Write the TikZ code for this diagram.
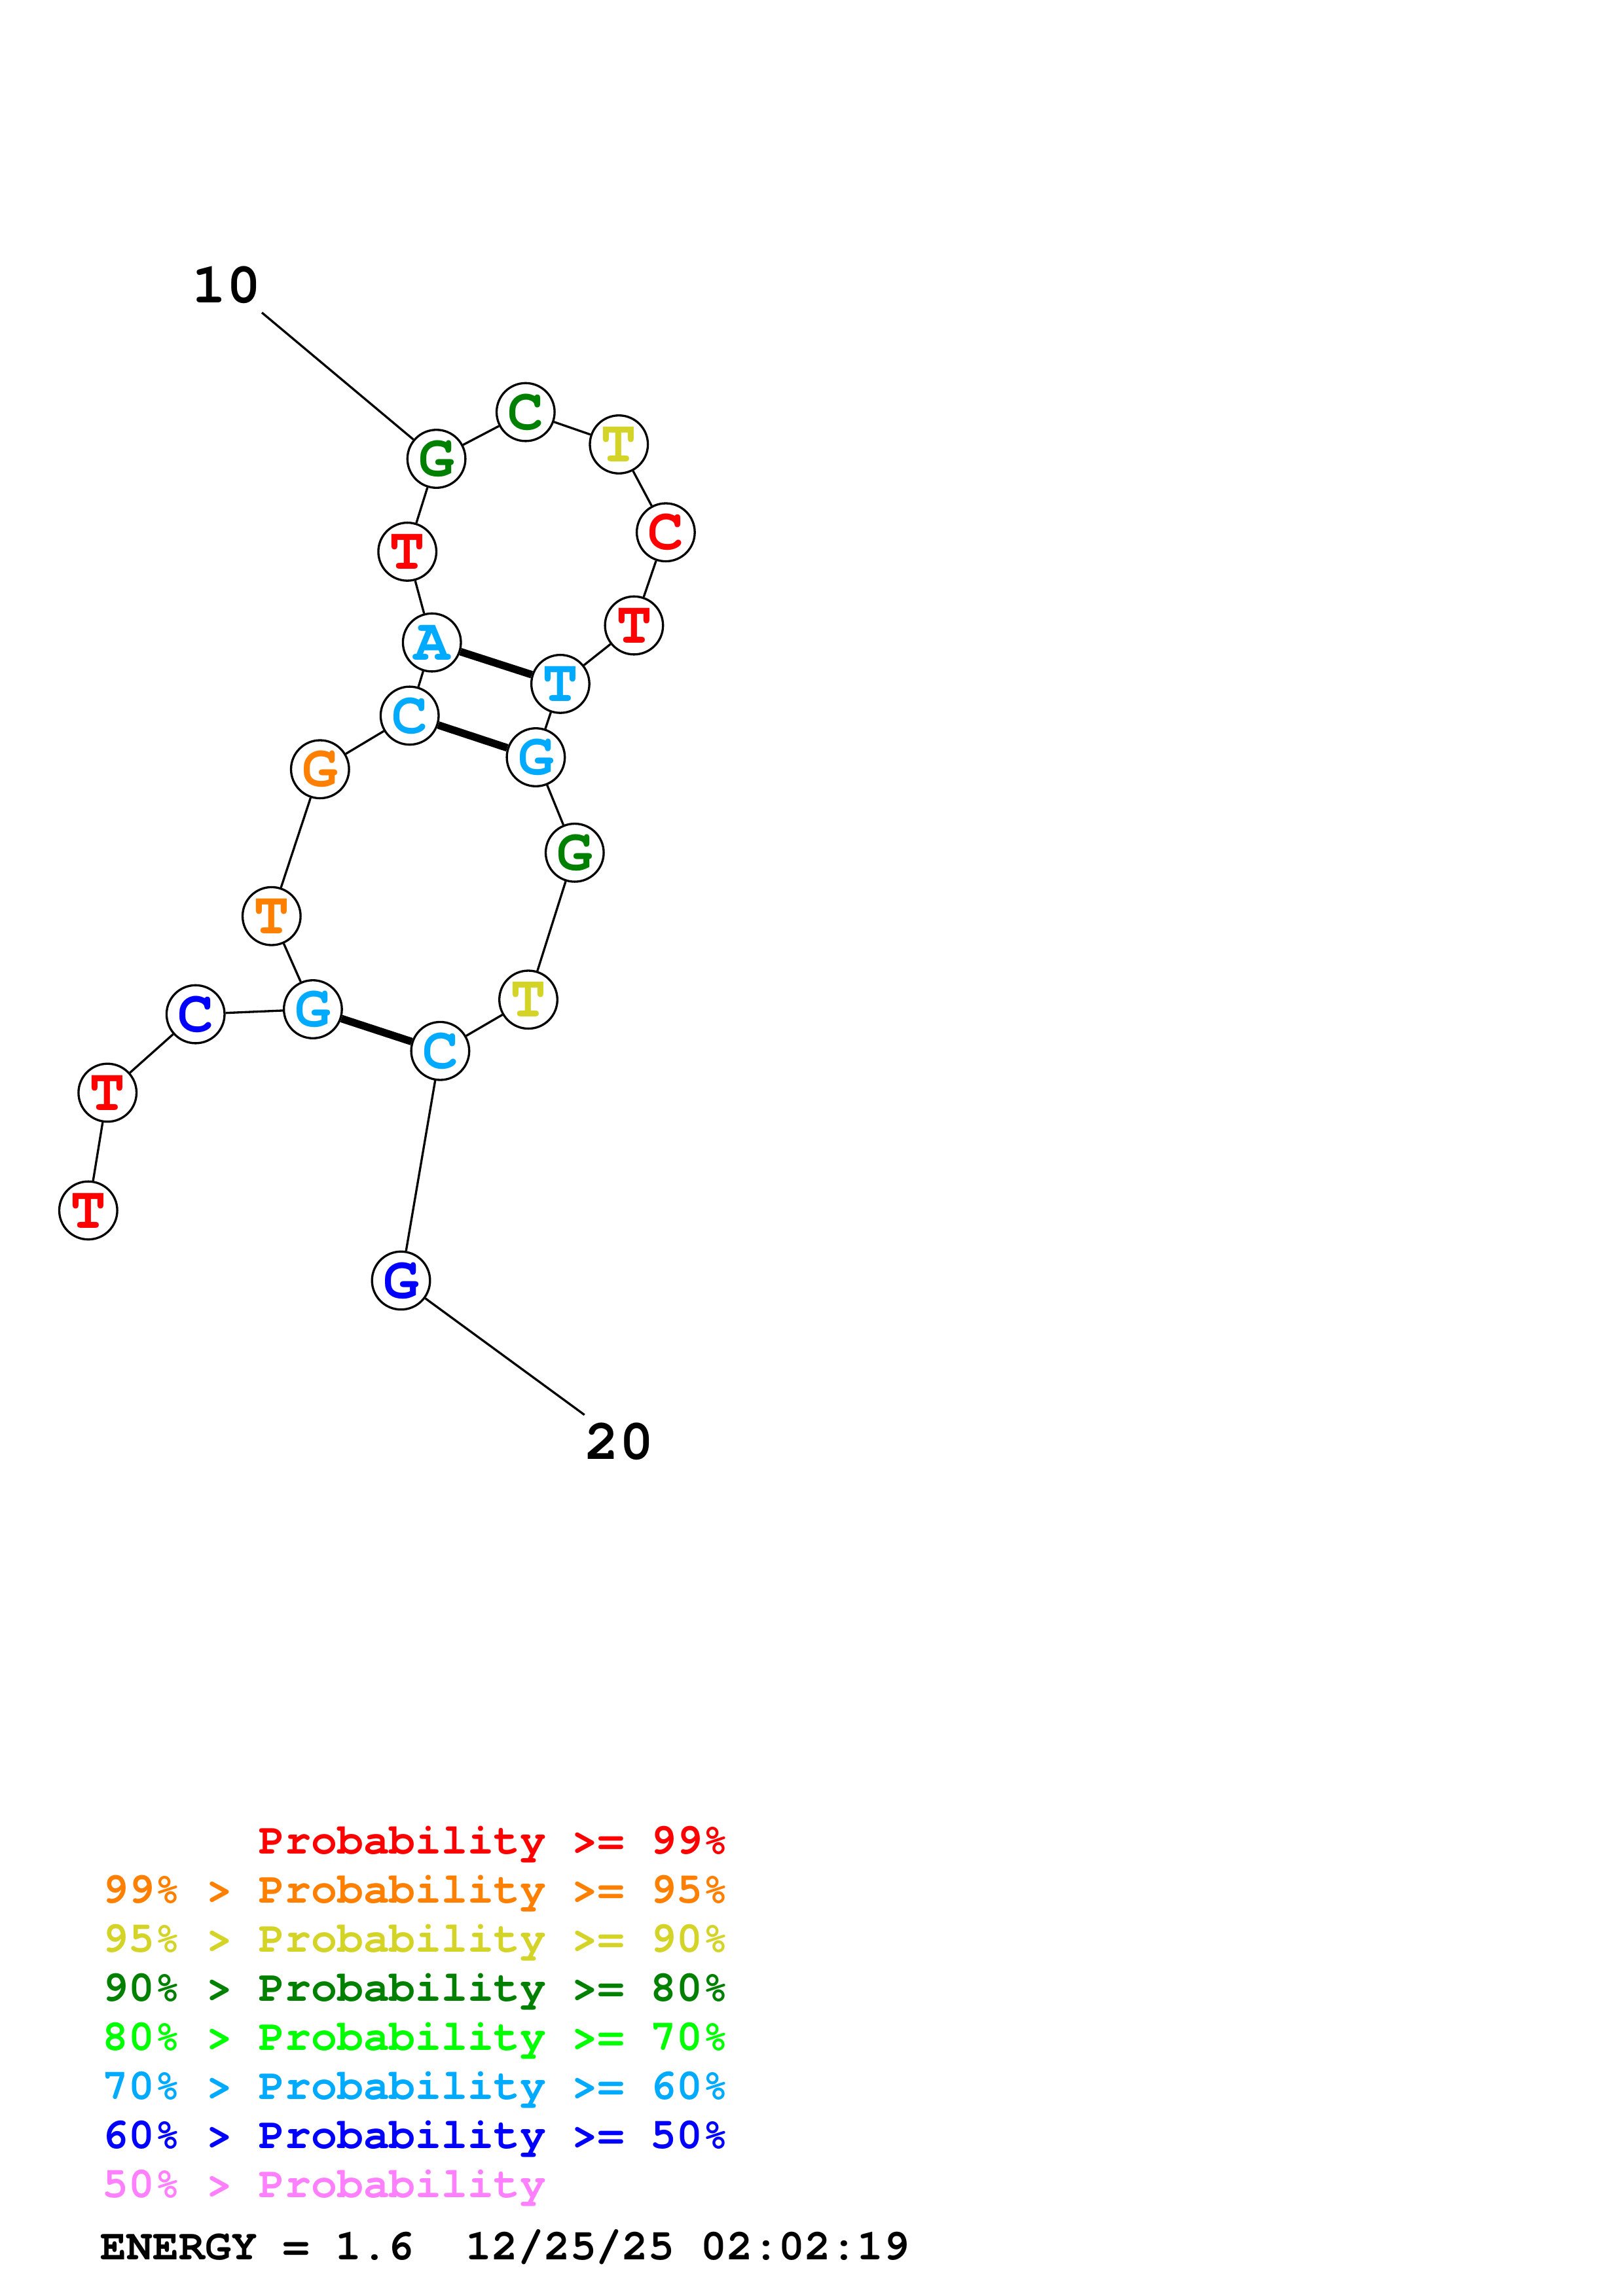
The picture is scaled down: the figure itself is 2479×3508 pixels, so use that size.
\documentclass[tikz,border=0pt]{standalone}
\usepackage{fontspec}
\setmonofont{texgyrecursor}[Extension=.otf,UprightFont=*-regular,BoldFont=*-bold]
\usepackage{tikz}

\definecolor{pNine}{RGB}{255,0,0}
\definecolor{pFive}{RGB}{255,128,0}
\definecolor{pNty}{RGB}{212,212,40}
\definecolor{pEty}{RGB}{0,128,0}
\definecolor{pSvty}{RGB}{0,255,0}
\definecolor{pSxty}{RGB}{0,170,255}
\definecolor{pFfty}{RGB}{0,0,255}
\definecolor{pLow}{RGB}{255,128,255}

\begin{document}
\begin{tikzpicture}[x=0.08467mm,y=-0.08467mm,
		base/.style={circle,draw=black,fill=white,line width=0.8pt,inner sep=0pt,minimum size=7.5mm,font=\ttfamily\bfseries\fontsize{22}{22}\selectfont},
		bb/.style={line width=0.8pt},
		pair/.style={line width=2.8pt},
		endlbl/.style={font=\ttfamily\bfseries\fontsize{21}{21}\selectfont},
		lgd/.style={anchor=base west,inner sep=0pt,font=\ttfamily\bfseries\fontsize{16}{16}\selectfont}]
		\useasboundingbox (0,0) rectangle (2479,3508);
		%Bases
		\node[base,text=pNine] (b1) at (134.8,1849.4) {T};
		\node[base,text=pNine] (b2) at (164.2,1669.5) {T};
		\node[base,text=pFfty] (b3) at (298.7,1549.6) {C};
		\node[base,text=pSxty] (b4) at (477.9,1542) {G};
		\node[base,text=pFive] (b5) at (414.8,1399.7) {T};
		\node[base,text=pFive] (b6) at (488.8,1175.3) {G};
		\node[base,text=pSxty] (b7) at (625.7,1093.4) {C};
		\node[base,text=pSxty] (b8) at (659.7,981.6) {A};
		\node[base,text=pNine] (b9) at (622.2,842.9) {T};
		\node[base,text=pEty] (b10) at (666.6,701) {G};
		\node[base,text=pEty] (b11) at (802.8,629.6) {C};
		\node[base,text=pNty] (b12) at (945.3,679) {T};
		\node[base,text=pNine] (b13) at (1016.9,813.3) {C};
		\node[base,text=pNine] (b14) at (968.4,955.6) {T};
		\node[base,text=pSxty] (b15) at (855.9,1044.9) {T};
		\node[base,text=pSxty] (b16) at (818.4,1157) {G};
		\node[base,text=pEty] (b17) at (877.8,1302.8) {G};
		\node[base,text=pNty] (b18) at (807,1527.3) {T};
		\node[base,text=pSxty] (b19) at (672.4,1605.7) {C};
		\node[base,text=pFfty] (b20) at (612.5,1956.5) {G};
		%Backbone
		\foreach \i [remember=\i as \last (initially 1)] in {2,...,20}
			\draw[bb] (b\last) -- (b\i);
		%Pairs
		\draw[pair] (b8) -- (b15);
		\draw[pair] (b7) -- (b16);
		\draw[pair] (b4) -- (b19);
		%Numbering
		\node[endlbl] (n10) at (346,435) {10};
		\coordinate (e10) at (400,477.6);
		\draw[bb] (e10) -- (b10);
		\node[endlbl] (n20) at (946,2202.5) {20};
		\coordinate (e20) at (892.7,2161.7);
		\draw[bb] (b20) -- (e20);
		%Legend
		\node[lgd,text=pNine] (l1) at (155.7,2832) {\phantom{99\% > }Probability >= 99\%};
		\node[lgd,text=pFive] (l2) at (155.7,2907.1) {99\% > Probability >= 95\%};
		\node[lgd,text=pNty] (l3) at (155.7,2982.2) {95\% > Probability >= 90\%};
		\node[lgd,text=pEty] (l4) at (155.7,3057.3) {90\% > Probability >= 80\%};
		\node[lgd,text=pSvty] (l5) at (155.7,3132.4) {80\% > Probability >= 70\%};
		\node[lgd,text=pSxty] (l6) at (155.7,3207.5) {70\% > Probability >= 60\%};
		\node[lgd,text=pFfty] (l7) at (155.7,3282.6) {60\% > Probability >= 50\%};
		\node[lgd,text=pLow] (l8) at (155.7,3357.7) {50\% > Probability};
		\node[lgd] (en) at (153,3452) {ENERGY = 1.6\ \ 12/25/25 02:02:19};
\end{tikzpicture}
\end{document}
